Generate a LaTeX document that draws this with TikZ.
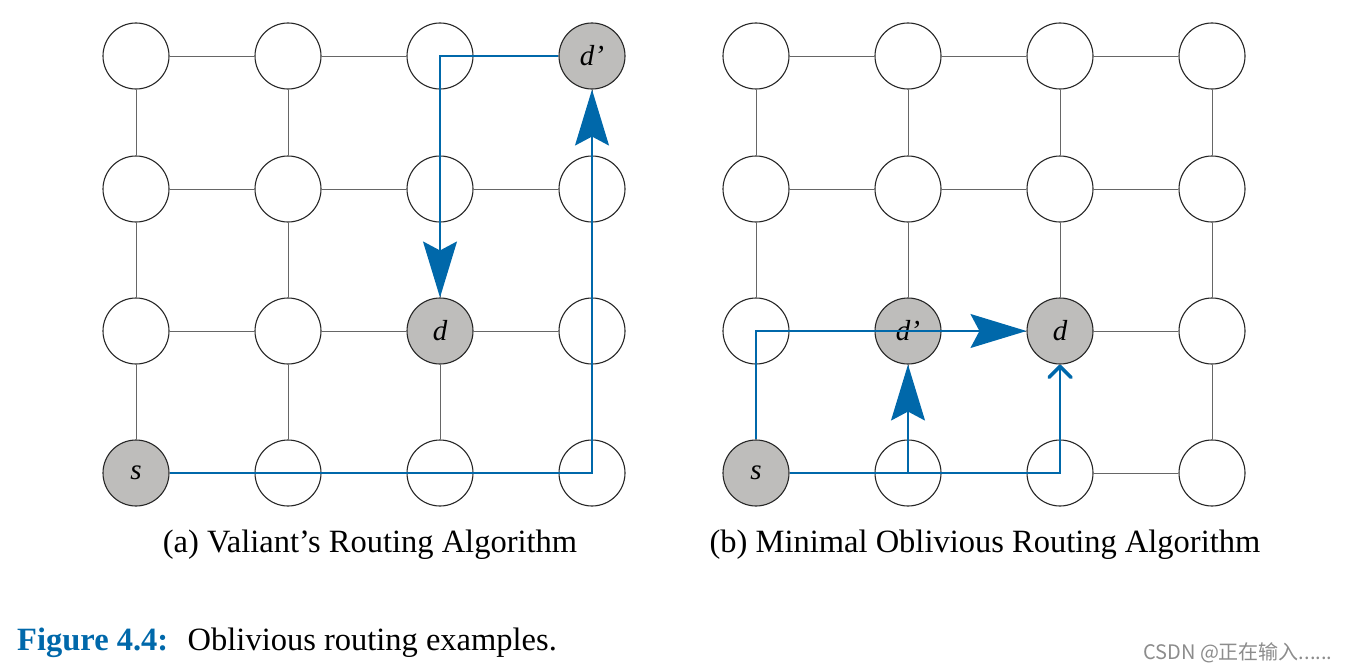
\documentclass[tikz,border=0pt]{standalone}
\usepackage{fontspec}
\setmainfont{Liberation Serif}
\newfontfamily\cjk{Noto Sans CJK SC}
\usetikzlibrary{arrows.meta}
\definecolor{routeblue}{RGB}{0,104,170}
\definecolor{nodegray}{RGB}{190,189,187}

\begin{document}
\begin{tikzpicture}[x=1pt, y=-1pt,
  router/.style={draw=black!85, circle, line width=1.1pt, fill=white, minimum size=66pt, inner sep=0pt, font=\fontsize{29}{34}\selectfont\itshape},
  marked/.style={router, fill=nodegray},
  link/.style={draw=black!60, line width=0.9pt},
  route/.style={draw=routeblue, line width=1.25pt},
  bigarrow/.style={route, -{Stealth[length=56pt, width=34pt, inset=9pt]}},
  smallarrow/.style={route, -{Straight Barb[length=11pt, width=22pt, line width=3.5pt, round]}},
  caption/.style={font=\fontsize{32.5}{38}\selectfont, anchor=base, inner sep=0pt}
]
  \useasboundingbox (0,0) rectangle (1346,669);

  % (a) Valiant
  \node[router] (a11) at (136,56)  {};
  \node[router] (a21) at (288,56)  {};
  \node[router] (a31) at (440,56)  {};
  \node[marked] (a41) at (592,56)  {d’};

  \node[router] (a12) at (136,189) {};
  \node[router] (a22) at (288,189) {};
  \node[router] (a32) at (440,189) {};
  \node[router] (a42) at (592,189) {};

  \node[router] (a13) at (136,331) {};
  \node[router] (a23) at (288,331) {};
  \node[marked] (a33) at (440,331) {d};
  \node[router] (a43) at (592,331) {};

  \node[marked] (a14) at (136,473) {s};
  \node[router] (a24) at (288,473) {};
  \node[router] (a34) at (440,473) {};
  \node[router] (a44) at (592,473) {};

  % (b) minimal oblivious
  \node[router] (b11) at (756,56)  {};
  \node[router] (b21) at (908,56)  {};
  \node[router] (b31) at (1060,56) {};
  \node[router] (b41) at (1212,56) {};

  \node[router] (b12) at (756,189) {};
  \node[router] (b22) at (908,189) {};
  \node[router] (b32) at (1060,189) {};
  \node[router] (b42) at (1212,189) {};

  \node[router] (b13) at (756,331) {};
  \node[marked] (b23) at (908,331) {d’};
  \node[marked] (b33) at (1060,331) {d};
  \node[router] (b43) at (1212,331) {};

  \node[marked] (b14) at (756,473) {s};
  \node[router] (b24) at (908,473) {};
  \node[router] (b34) at (1060,473) {};
  \node[router] (b44) at (1212,473) {};

  % mesh links
  \foreach \g in {a,b} {
    \foreach \c in {1,2,3,4}
      \foreach \r/\rr in {1/2,2/3,3/4}
        \draw[link] (\g\c\r) -- (\g\c\rr);
    \foreach \c/\cc in {1/2,2/3,3/4}
      \foreach \r in {1,2,3,4}
        \draw[link] (\g\c\r) -- (\g\cc\r);
  }

  % routes
  \draw[bigarrow] (a14.east) -| (a41.south);
  \draw[bigarrow] (a41.west) -| (a33.north);
  \draw[bigarrow] (b14.north) |- (b33.west);
  \draw[bigarrow] (b14.east) -| (b23.south);
  \draw[smallarrow] (b14.east) -| (b33.south);

  \node[caption] (capa) at (370,552) {(a) Valiant’s Routing Algorithm};
  \node[caption] (capb) at (985,552) {(b) Minimal Oblivious Routing Algorithm};
  \node[caption, anchor=base west] (fig) at (17,650) {\textcolor{routeblue}{\bfseries Figure 4.4:}\hspace{0.6em}Oblivious routing examples.};
  \node[anchor=base west, inner sep=0pt, text=black!45, font=\cjk\fontsize{20}{22}\selectfont] (mark) at (1143,659) {CSDN @正在输入......};
\end{tikzpicture}
\end{document}
